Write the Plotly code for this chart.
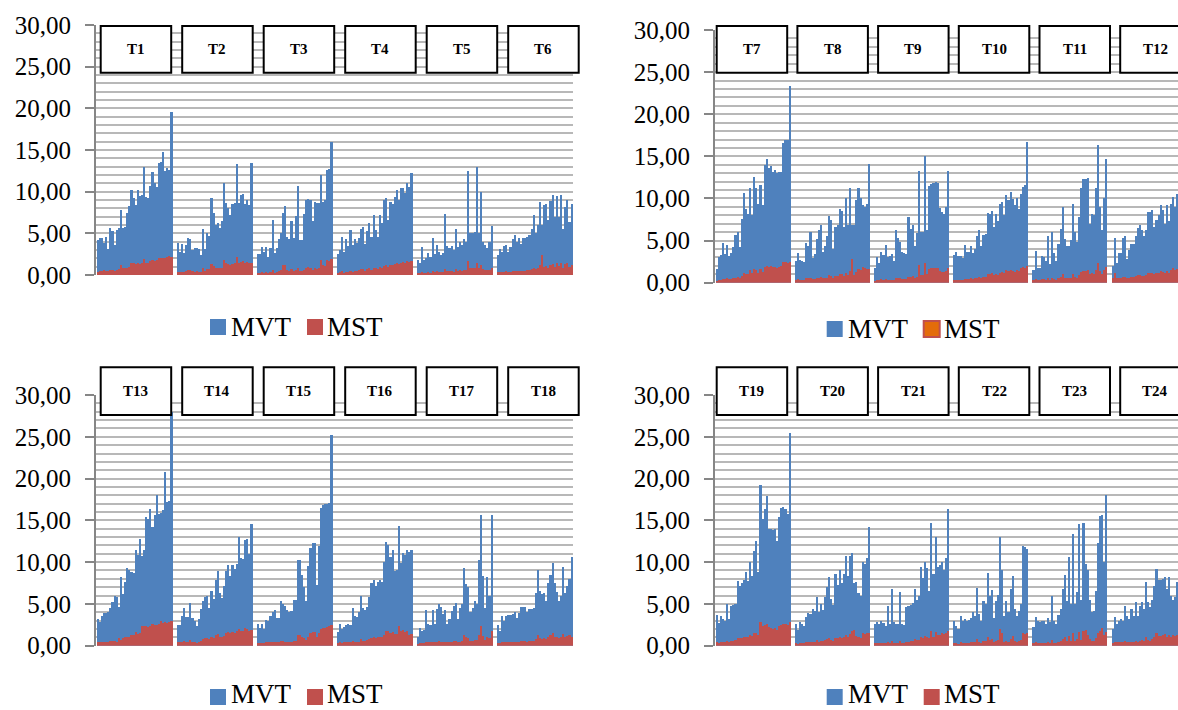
import plotly.graph_objects as go

W, H = 1178, 710

# ---- MVT / MST values for each test (36 readings per test) ----
mvt_t1 = [4.2, 4.5, 4.5, 3.8, 4.6, 3.1, 5.7, 5.3, 3.6, 5.4, 5.6, 7.8, 5.6, 5.8, 7.5, 8.3, 10.2, 9.3, 8.4, 10.2, 9.5, 9.6, 13.0, 9.4, 9.3, 10.7, 12.4, 11.0, 10.6, 13.5, 13.6, 14.8, 12.5, 12.8, 12.6, 19.6]
mst_t1 = [0.4, 0.5, 0.5, 0.6, 0.5, 0.5, 0.6, 0.6, 0.5, 0.6, 0.7, 1.2, 0.8, 0.8, 0.9, 1.0, 1.5, 1.5, 1.3, 1.4, 1.3, 1.4, 1.9, 1.5, 1.4, 1.7, 1.8, 1.7, 1.8, 2.0, 2.0, 2.1, 2.1, 2.2, 2.3, 2.2]
mvt_t2 = [3.8, 2.8, 3.7, 2.6, 3.6, 4.5, 4.3, 3.0, 3.3, 3.2, 3.1, 2.4, 5.5, 3.1, 5.0, 4.7, 9.3, 7.4, 6.0, 6.2, 5.6, 6.5, 11.0, 8.7, 8.0, 7.2, 8.5, 8.6, 13.3, 8.7, 9.6, 9.7, 8.5, 9.0, 8.4, 13.4]
mst_t2 = [0.4, 0.4, 0.4, 0.4, 0.5, 0.6, 0.6, 0.5, 0.4, 0.5, 0.4, 0.4, 0.8, 0.5, 0.7, 0.7, 1.3, 1.1, 0.9, 0.9, 0.8, 0.9, 1.8, 1.5, 1.3, 1.2, 1.3, 1.4, 2.2, 1.5, 1.6, 1.7, 1.5, 1.6, 1.4, 1.5]
mvt_t3 = [2.5, 2.5, 3.4, 2.8, 3.4, 2.2, 3.3, 6.6, 2.6, 3.2, 4.3, 5.0, 7.5, 8.3, 4.6, 4.3, 6.5, 4.5, 7.1, 10.7, 4.2, 4.2, 7.3, 9.0, 9.1, 9.0, 6.5, 8.8, 8.6, 8.7, 12.0, 8.8, 9.0, 12.6, 12.7, 16.0]
mst_t3 = [0.3, 0.3, 0.4, 0.3, 0.4, 0.3, 0.4, 0.6, 0.3, 0.4, 0.5, 0.6, 1.2, 1.2, 0.6, 0.5, 0.7, 0.5, 0.6, 0.9, 0.5, 0.5, 0.6, 0.9, 1.0, 0.9, 0.6, 0.8, 0.7, 0.8, 1.8, 1.2, 1.1, 1.8, 1.7, 1.9]
mvt_t4 = [2.5, 3.0, 4.6, 2.8, 4.3, 3.5, 5.4, 3.6, 4.3, 3.8, 4.4, 5.5, 5.8, 3.7, 5.3, 6.3, 4.6, 7.2, 5.4, 4.6, 7.2, 6.3, 9.0, 9.2, 6.6, 8.8, 8.5, 9.4, 10.2, 9.0, 10.5, 10.4, 9.8, 11.0, 10.6, 12.2]
mst_t4 = [0.3, 0.4, 0.5, 0.3, 0.4, 0.4, 0.5, 0.4, 0.5, 0.5, 0.6, 0.7, 0.7, 0.5, 0.7, 0.8, 0.6, 0.9, 0.8, 0.7, 1.0, 0.9, 1.1, 1.2, 1.0, 1.2, 1.2, 1.3, 1.5, 1.3, 1.5, 1.6, 1.5, 1.7, 1.6, 1.7]
mvt_t5 = [1.8, 1.4, 3.4, 1.8, 2.0, 2.6, 2.2, 4.5, 2.5, 3.6, 2.8, 2.4, 2.6, 7.3, 3.5, 3.3, 3.5, 3.0, 5.5, 3.4, 4.0, 3.6, 4.3, 4.0, 12.5, 5.0, 5.0, 5.2, 13.0, 5.0, 10.0, 4.0, 3.6, 3.3, 4.0, 5.9]
mst_t5 = [0.3, 0.3, 0.4, 0.3, 0.3, 0.4, 0.3, 0.5, 0.4, 0.5, 0.4, 0.4, 0.4, 0.7, 0.5, 0.5, 0.5, 0.4, 0.7, 0.5, 0.6, 0.5, 0.6, 0.6, 1.7, 0.8, 0.8, 0.8, 1.5, 0.8, 1.2, 0.7, 0.6, 0.6, 0.6, 0.8]
mvt_t6 = [2.4, 3.1, 2.8, 3.5, 3.6, 2.8, 3.4, 4.3, 4.8, 4.0, 4.4, 3.7, 4.5, 4.5, 4.6, 4.8, 5.5, 7.2, 5.0, 6.0, 8.8, 6.0, 8.4, 8.5, 6.6, 8.9, 9.6, 7.0, 9.5, 7.0, 9.6, 5.5, 8.2, 9.0, 6.4, 8.5]
mst_t6 = [0.4, 0.4, 0.4, 0.4, 0.5, 0.4, 0.4, 0.5, 0.5, 0.5, 0.5, 0.5, 0.5, 0.5, 0.6, 0.6, 0.7, 0.8, 0.7, 0.8, 1.2, 2.4, 1.0, 1.1, 0.9, 1.2, 1.3, 1.0, 1.4, 1.1, 1.5, 0.9, 1.3, 1.4, 1.0, 1.2]

mvt_t7 = [1.6, 3.1, 3.3, 4.7, 3.4, 4.5, 3.2, 3.5, 4.2, 5.7, 6.0, 4.2, 7.6, 10.6, 8.8, 8.2, 11.2, 8.0, 12.6, 11.3, 9.3, 11.6, 9.2, 14.0, 14.7, 13.6, 13.9, 13.2, 13.4, 13.0, 13.2, 13.1, 16.6, 16.9, 17.0, 23.3]
mst_t7 = [0.2, 0.3, 0.3, 0.4, 0.4, 0.5, 0.4, 0.4, 0.5, 0.6, 0.7, 0.6, 0.8, 1.2, 1.0, 1.0, 1.5, 1.1, 1.6, 1.5, 1.2, 1.6, 1.3, 1.9, 2.0, 1.9, 2.0, 1.9, 1.9, 1.8, 1.9, 2.0, 2.4, 2.4, 2.3, 2.5]
mvt_t8 = [2.6, 3.5, 2.7, 2.6, 2.5, 4.7, 4.4, 6.0, 2.9, 3.4, 5.2, 6.2, 6.8, 3.7, 4.3, 5.6, 7.9, 7.5, 4.0, 6.6, 6.8, 8.7, 8.5, 6.6, 10.0, 6.8, 11.3, 6.8, 6.8, 9.8, 11.2, 10.0, 9.2, 9.0, 9.3, 14.1]
mst_t8 = [0.3, 0.4, 0.3, 0.3, 0.3, 0.5, 0.5, 0.6, 0.4, 0.4, 0.6, 0.6, 0.7, 0.5, 0.5, 0.6, 0.9, 0.8, 0.5, 0.8, 0.8, 1.0, 1.0, 0.8, 1.2, 0.9, 1.4, 2.8, 0.9, 1.3, 1.6, 1.5, 1.9, 1.7, 1.6, 1.6]
mvt_t9 = [1.8, 3.1, 2.3, 3.7, 3.3, 4.5, 3.1, 3.2, 3.4, 2.6, 6.2, 5.3, 4.8, 3.6, 3.5, 3.4, 7.8, 6.4, 6.9, 4.4, 5.9, 13.3, 6.0, 6.0, 15.0, 6.3, 11.5, 11.7, 11.8, 11.9, 11.8, 8.9, 8.4, 8.2, 9.0, 13.3]
mst_t9 = [0.2, 0.3, 0.3, 0.4, 0.3, 0.4, 0.3, 0.3, 0.3, 0.3, 0.6, 0.6, 0.5, 0.4, 0.4, 0.4, 0.7, 0.7, 0.8, 0.6, 0.7, 2.1, 0.9, 0.9, 2.3, 1.0, 1.6, 1.8, 1.7, 1.7, 1.8, 1.4, 1.3, 1.3, 1.4, 1.7]
mvt_t10 = [3.3, 3.6, 3.2, 3.2, 2.9, 4.5, 3.6, 3.6, 4.3, 3.5, 4.0, 5.6, 6.2, 4.4, 5.7, 5.8, 8.3, 8.2, 8.5, 6.6, 8.1, 7.3, 9.3, 9.6, 8.0, 10.4, 9.8, 10.8, 9.9, 9.2, 10.0, 8.7, 10.5, 11.4, 11.6, 16.7]
mst_t10 = [0.3, 0.3, 0.3, 0.3, 0.3, 0.4, 0.4, 0.4, 0.5, 0.4, 0.5, 0.6, 0.7, 0.6, 0.7, 0.7, 1.0, 1.0, 1.1, 0.9, 1.0, 0.9, 1.2, 1.3, 1.1, 1.5, 1.4, 1.5, 1.4, 1.3, 1.5, 1.4, 1.7, 1.9, 1.8, 2.0]
mvt_t11 = [1.5, 3.8, 1.8, 1.8, 3.2, 3.1, 2.6, 5.6, 2.2, 6.0, 3.5, 2.6, 4.6, 6.4, 9.0, 5.2, 4.3, 4.4, 5.1, 9.3, 6.0, 4.8, 7.8, 11.3, 12.3, 12.3, 12.4, 7.0, 8.2, 8.0, 11.3, 16.3, 9.0, 6.3, 10.0, 14.7]
mst_t11 = [0.3, 0.4, 0.3, 0.3, 0.4, 0.4, 0.3, 0.6, 0.3, 0.6, 0.4, 0.3, 0.5, 0.7, 1.0, 0.6, 0.5, 0.5, 0.6, 1.0, 0.7, 0.6, 0.9, 1.3, 1.4, 1.4, 1.5, 1.0, 1.1, 1.0, 1.5, 2.3, 1.4, 1.0, 1.5, 1.9]
mvt_t12 = [2.0, 5.3, 2.3, 3.5, 3.5, 5.3, 5.5, 2.8, 3.9, 4.6, 4.6, 5.6, 6.5, 6.8, 6.3, 5.6, 6.2, 8.4, 8.4, 8.6, 6.6, 7.5, 8.0, 9.2, 8.6, 7.0, 9.2, 7.3, 9.3, 10.2, 9.0, 10.5, 9.6, 11.0, 10.2, 12.0]
mst_t12 = [0.6, 1.1, 0.5, 0.6, 0.6, 0.7, 0.7, 0.5, 0.6, 0.7, 0.7, 0.8, 0.9, 0.9, 0.8, 0.8, 0.9, 1.1, 1.1, 1.2, 1.0, 1.1, 1.2, 1.4, 1.3, 1.1, 1.4, 1.2, 1.5, 1.7, 1.5, 1.6, 1.5, 1.7, 1.6, 1.8]

mvt_t13 = [3.2, 2.8, 3.5, 3.9, 3.9, 4.0, 4.5, 5.2, 6.0, 5.8, 4.6, 8.2, 6.2, 7.6, 9.3, 9.1, 8.8, 8.7, 11.4, 10.8, 12.8, 10.7, 11.5, 15.4, 15.2, 16.4, 14.2, 15.6, 18.0, 15.8, 15.9, 16.2, 20.8, 17.2, 17.3, 28.0]
mst_t13 = [0.4, 0.4, 0.4, 0.5, 0.5, 0.5, 0.6, 0.6, 0.6, 0.5, 0.9, 0.7, 0.9, 1.1, 1.1, 1.1, 1.3, 1.3, 1.6, 1.4, 1.5, 2.4, 2.4, 2.4, 2.2, 2.4, 2.6, 2.5, 2.5, 2.6, 2.9, 2.7, 2.8, 2.7, 2.8, 3.0]
mvt_t14 = [2.5, 2.5, 3.6, 4.5, 3.4, 3.4, 5.1, 3.3, 3.0, 2.3, 3.2, 4.4, 5.3, 5.8, 6.0, 4.5, 6.5, 5.6, 7.9, 8.9, 6.3, 5.7, 7.2, 8.9, 9.6, 8.4, 9.7, 9.2, 9.8, 13.0, 10.5, 10.4, 12.7, 12.8, 11.0, 14.6]
mst_t14 = [0.4, 0.4, 0.5, 0.6, 0.5, 0.5, 0.7, 0.5, 0.4, 0.3, 0.5, 0.6, 0.8, 0.9, 0.9, 0.8, 1.0, 0.9, 1.3, 1.4, 1.1, 1.0, 1.2, 1.5, 1.6, 1.5, 1.6, 1.5, 1.7, 2.0, 1.8, 1.7, 2.1, 2.0, 1.7, 1.9]
mvt_t15 = [2.6, 2.1, 2.6, 2.0, 3.1, 3.0, 3.6, 4.0, 4.3, 3.3, 3.3, 5.4, 5.0, 4.8, 4.3, 4.0, 4.1, 5.5, 5.5, 10.2, 10.2, 8.5, 7.0, 5.3, 9.5, 11.7, 12.3, 12.3, 7.3, 11.9, 16.5, 16.8, 17.0, 17.0, 17.1, 25.2]
mst_t15 = [0.3, 0.3, 0.3, 0.3, 0.4, 0.4, 0.4, 0.5, 0.5, 0.4, 0.4, 0.6, 0.6, 0.5, 0.5, 0.5, 0.5, 0.6, 0.6, 1.3, 1.3, 1.0, 0.9, 0.7, 1.1, 1.5, 1.6, 1.6, 1.0, 1.5, 2.0, 2.1, 2.1, 2.2, 2.3, 2.5]
mvt_t16 = [1.6, 2.6, 2.0, 2.2, 2.5, 2.6, 2.5, 4.5, 3.5, 3.4, 4.0, 6.0, 4.5, 4.3, 4.6, 5.8, 7.5, 7.9, 7.2, 7.6, 7.9, 7.6, 10.0, 12.4, 12.0, 10.6, 11.4, 8.9, 9.0, 14.3, 9.9, 11.1, 10.8, 11.5, 11.2, 11.5]
mst_t16 = [0.3, 0.4, 0.3, 0.4, 0.4, 0.4, 0.4, 0.6, 0.5, 0.5, 0.5, 0.8, 0.6, 0.6, 0.7, 0.8, 0.9, 1.0, 0.9, 1.0, 1.1, 1.0, 1.3, 1.7, 1.7, 1.5, 1.6, 1.4, 1.4, 2.3, 1.8, 1.9, 1.6, 1.7, 1.3, 1.4]
mvt_t17 = [1.0, 2.1, 1.8, 1.9, 4.3, 2.6, 2.5, 4.3, 2.6, 4.4, 5.0, 4.6, 3.8, 4.3, 2.6, 3.2, 4.2, 4.8, 5.1, 3.2, 4.5, 5.0, 9.3, 7.4, 7.0, 4.0, 4.5, 5.4, 5.0, 10.2, 15.6, 8.3, 4.5, 8.2, 6.0, 15.6]
mst_t17 = [0.2, 0.3, 0.3, 0.3, 0.5, 0.4, 0.4, 0.5, 0.4, 0.5, 0.6, 0.5, 0.5, 0.5, 0.4, 0.4, 0.5, 0.6, 0.6, 0.4, 0.5, 0.6, 1.3, 1.0, 0.9, 0.6, 0.6, 0.7, 0.7, 1.3, 2.3, 1.2, 0.7, 1.1, 0.9, 1.8]
mvt_t18 = [2.5, 1.8, 3.6, 3.0, 3.6, 3.7, 3.7, 3.8, 4.0, 3.3, 3.9, 4.6, 4.6, 4.6, 4.0, 4.4, 4.4, 4.5, 6.3, 9.0, 6.5, 6.2, 6.3, 5.4, 7.5, 8.5, 9.9, 7.5, 6.4, 5.4, 6.0, 9.4, 6.3, 7.2, 8.0, 10.6]
mst_t18 = [0.3, 0.3, 0.4, 0.4, 0.4, 0.5, 0.5, 0.5, 0.5, 0.4, 0.5, 0.6, 0.6, 0.6, 0.5, 0.6, 0.6, 0.6, 0.8, 1.3, 0.9, 0.8, 0.9, 0.8, 1.0, 1.3, 1.5, 1.1, 1.0, 0.9, 1.0, 1.4, 1.0, 1.2, 1.3, 1.1]

mvt_t19 = [3.7, 2.7, 3.6, 3.2, 2.9, 5.0, 3.2, 4.7, 4.9, 5.0, 7.8, 7.1, 7.5, 7.9, 8.8, 7.7, 10.0, 8.4, 11.3, 12.5, 8.8, 19.2, 15.2, 16.3, 17.9, 14.0, 14.0, 13.9, 14.0, 12.5, 15.4, 16.5, 16.6, 16.4, 15.8, 25.5]
mst_t19 = [0.4, 0.3, 0.4, 0.4, 0.4, 0.6, 0.5, 0.6, 0.6, 0.7, 0.9, 0.9, 0.9, 1.0, 1.0, 1.0, 1.3, 1.2, 1.5, 1.5, 1.3, 2.8, 2.4, 2.5, 2.6, 2.2, 2.1, 2.0, 2.1, 1.9, 2.4, 2.5, 2.6, 2.6, 2.5, 2.8]
mvt_t20 = [2.6, 1.9, 2.8, 2.6, 2.3, 3.4, 3.9, 3.8, 4.4, 4.2, 5.8, 4.0, 5.0, 4.3, 5.8, 7.0, 8.2, 5.6, 4.9, 8.6, 7.3, 9.0, 7.5, 8.6, 10.7, 8.3, 10.7, 11.1, 7.5, 7.6, 6.3, 6.0, 10.0, 9.8, 10.5, 14.2]
mst_t20 = [0.3, 0.2, 0.3, 0.3, 0.3, 0.4, 0.5, 0.5, 0.5, 0.5, 0.7, 0.5, 0.6, 0.6, 0.7, 0.8, 0.9, 0.7, 0.6, 0.9, 0.9, 1.0, 0.9, 1.0, 1.3, 1.1, 1.4, 1.7, 1.9, 1.2, 1.0, 0.9, 1.5, 1.4, 1.5, 1.5]
mvt_t21 = [2.6, 2.8, 2.6, 2.9, 2.7, 2.3, 4.7, 2.6, 6.8, 2.8, 2.6, 2.6, 6.4, 2.6, 2.5, 4.6, 4.7, 4.9, 5.1, 6.8, 5.5, 6.0, 9.4, 8.1, 10.0, 9.3, 6.6, 14.7, 8.6, 13.0, 9.4, 9.6, 10.0, 9.0, 10.5, 16.4]
mst_t21 = [0.3, 0.3, 0.3, 0.3, 0.3, 0.3, 0.5, 0.3, 0.6, 0.3, 0.3, 0.3, 0.6, 0.3, 0.3, 0.5, 0.5, 0.6, 0.6, 0.8, 0.7, 0.7, 1.0, 0.9, 1.2, 1.1, 0.9, 1.7, 1.1, 1.6, 1.3, 1.3, 1.5, 1.4, 1.5, 1.8]
mvt_t22 = [2.9, 2.4, 2.0, 3.6, 2.9, 3.2, 2.9, 3.1, 3.3, 4.0, 3.6, 6.9, 3.8, 3.0, 5.4, 5.0, 8.7, 6.0, 6.7, 3.3, 5.3, 6.1, 13.0, 9.1, 3.6, 5.4, 4.0, 6.8, 8.4, 4.4, 3.6, 4.2, 5.0, 11.9, 11.8, 11.6]
mst_t22 = [0.3, 0.3, 0.2, 0.4, 0.3, 0.3, 0.3, 0.3, 0.4, 0.5, 0.4, 0.8, 0.4, 0.3, 0.6, 0.6, 1.0, 0.7, 0.8, 0.4, 0.6, 0.7, 2.0, 1.5, 0.5, 0.6, 0.5, 0.8, 1.2, 0.6, 0.5, 0.6, 0.7, 1.5, 1.4, 1.5]
mvt_t23 = [2.2, 3.4, 3.0, 2.8, 3.0, 2.9, 2.6, 3.3, 2.8, 6.0, 3.0, 2.6, 3.7, 4.4, 6.8, 8.5, 5.3, 10.6, 5.0, 13.4, 5.0, 6.4, 14.6, 5.5, 14.7, 9.8, 9.1, 5.5, 4.0, 4.2, 6.6, 12.3, 15.5, 15.6, 10.0, 18.0]
mst_t23 = [0.3, 0.4, 0.3, 0.3, 0.3, 0.3, 0.3, 0.4, 0.3, 0.7, 0.3, 0.3, 0.5, 0.6, 0.8, 1.0, 0.6, 1.2, 0.6, 1.5, 0.6, 0.8, 1.6, 0.7, 1.7, 1.9, 1.3, 0.8, 0.6, 0.6, 0.9, 1.5, 1.8, 2.1, 1.3, 1.6]
mvt_t24 = [2.0, 3.4, 2.6, 3.0, 3.2, 3.0, 4.8, 3.6, 3.2, 4.4, 3.6, 5.2, 3.6, 4.7, 5.2, 4.4, 7.6, 5.2, 4.6, 5.5, 7.2, 9.2, 7.9, 7.9, 8.0, 8.2, 6.8, 8.2, 6.0, 5.5, 5.8, 7.6, 8.4, 6.9, 9.0, 7.5]
mst_t24 = [0.3, 0.4, 0.4, 0.4, 0.4, 0.4, 0.6, 0.5, 0.4, 0.5, 0.5, 0.6, 0.5, 0.6, 0.7, 0.6, 1.0, 0.7, 0.6, 0.8, 1.0, 1.5, 1.2, 1.2, 1.3, 1.4, 1.1, 1.3, 1.0, 1.3, 1.2, 1.3, 1.4, 1.2, 1.4, 1.3]

labels_a = ["T1", "T2", "T3", "T4", "T5", "T6"]
labels_b = ["T7", "T8", "T9", "T10", "T11", "T12"]
labels_c = ["T13", "T14", "T15", "T16", "T17", "T18"]
labels_d = ["T19", "T20", "T21", "T22", "T23", "T24"]

# ---- styling ----
BLUE = "#4F81BD"
RED = "#C0504D"
ORANGE = "#E46C0A"
GRID = "#b8b8b8"
AXIS = "#868686"
SERIF = "Liberation Serif"

GROUP_STRIDE = 38   # 36 readings + 2 empty slots between tests


def fx(p):
    return p / W


def fy(p):
    return 1 - p / H


panels = [
    dict(labels=labels_a,
         mvt=[mvt_t1, mvt_t2, mvt_t3, mvt_t4, mvt_t5, mvt_t6],
         mst=[mst_t1, mst_t2, mst_t3, mst_t4, mst_t5, mst_t6],
         axis_px=96, right_px=573, first_px=96.7, slot_px=2.106,
         top_px=25, bot_px=275, box_left=100.7, box_step=81.5,
         box_top=26, box_bot=72.7, leg_x=210, leg_y=327, text_dy=0,
         mst_swatch=RED),
    dict(labels=labels_b,
         mvt=[mvt_t7, mvt_t8, mvt_t9, mvt_t10, mvt_t11, mvt_t12],
         mst=[mst_t7, mst_t8, mst_t9, mst_t10, mst_t11, mst_t12],
         axis_px=715, right_px=1178, first_px=715.7, slot_px=2.084,
         top_px=30, bot_px=282.7, box_left=716.7, box_step=80.7,
         box_top=26, box_bot=72.7, leg_x=826.7, leg_y=329, text_dy=0,
         mst_swatch=ORANGE),
    dict(labels=labels_c,
         mvt=[mvt_t13, mvt_t14, mvt_t15, mvt_t16, mvt_t17, mvt_t18],
         mst=[mst_t13, mst_t14, mst_t15, mst_t16, mst_t17, mst_t18],
         axis_px=96, right_px=573, first_px=96.7, slot_px=2.106,
         top_px=395, bot_px=645.7, box_left=100.7, box_step=81.5,
         box_top=367.3, box_bot=415, leg_x=210, leg_y=697, text_dy=-3,
         mst_swatch=RED),
    dict(labels=labels_d,
         mvt=[mvt_t19, mvt_t20, mvt_t21, mvt_t22, mvt_t23, mvt_t24],
         mst=[mst_t19, mst_t20, mst_t21, mst_t22, mst_t23, mst_t24],
         axis_px=715, right_px=1178, first_px=715.7, slot_px=2.084,
         top_px=395, bot_px=645.7, box_left=716.7, box_step=80.7,
         box_top=367.3, box_bot=415, leg_x=826.7, leg_y=697, text_dy=-3,
         mst_swatch=RED),
]

BOX_W = 70.5
SW = 16  # legend swatch size (px)

fig = go.Figure()
shapes = []
annotations = []
layout_axes = {}

for k, p in enumerate(panels):
    sfx = "" if k == 0 else str(k + 1)
    xa, ya = "x" + sfx, "y" + sfx

    xs, mvt_all, mst_all = [], [], []
    for g, (mv, ms) in enumerate(zip(p["mvt"], p["mst"])):
        xs += [g * GROUP_STRIDE + i + 1 for i in range(len(mv))]
        mvt_all += mv
        mst_all += ms

    fig.add_trace(go.Bar(x=xs, y=mvt_all, xaxis=xa, yaxis=ya, name="MVT",
                         marker=dict(color=BLUE, line=dict(width=0)),
                         showlegend=False))
    fig.add_trace(go.Bar(x=xs, y=mst_all, xaxis=xa, yaxis=ya, name="MST",
                         marker=dict(color=RED, line=dict(width=0)),
                         showlegend=False))

    r0 = 0.5 - (p["first_px"] - p["axis_px"]) / p["slot_px"]
    r1 = r0 + (p["right_px"] - p["axis_px"]) / p["slot_px"]

    layout_axes["xaxis" + sfx] = dict(
        domain=[fx(p["axis_px"]), fx(p["right_px"])], range=[r0, r1],
        anchor=ya, visible=False, fixedrange=True, automargin=False)
    layout_axes["yaxis" + sfx] = dict(
        domain=[fy(p["bot_px"]), fy(p["top_px"])], range=[0, 30],
        anchor=xa, dtick=5, tick0=0, tickformat=".2f",
        ticks="outside", ticklen=9, tickwidth=2, tickcolor=AXIS,
        ticklabelstandoff=9, automargin=False,
        showline=True, linecolor=AXIS, linewidth=2,
        showgrid=True, gridcolor=GRID, gridwidth=2, zeroline=False,
        minor=dict(dtick=1, tick0=0, showgrid=True, gridcolor=GRID,
                   gridwidth=2, ticks=""),
        tickfont=dict(family=SERIF, size=25, color="black"),
        fixedrange=True)

    # test label boxes across the top of each panel
    for j, lab in enumerate(p["labels"]):
        x0 = p["box_left"] + j * p["box_step"]
        shapes.append(dict(type="rect", xref="paper", yref="paper",
                           x0=fx(x0), x1=fx(x0 + BOX_W),
                           y0=fy(p["box_bot"]), y1=fy(p["box_top"]),
                           fillcolor="white", line=dict(color="black", width=2),
                           layer="above"))
        annotations.append(dict(xref="paper", yref="paper",
                                x=fx(x0 + BOX_W / 2),
                                y=fy((p["box_top"] + p["box_bot"]) / 2),
                                text="<b>%s</b>" % lab, showarrow=False,
                                xanchor="center", yanchor="middle",
                                font=dict(family=SERIF, size=15, color="black")))

    # legend row under the panel
    lx, ly = p["leg_x"], p["leg_y"]
    shapes.append(dict(type="rect", xref="paper", yref="paper",
                       x0=fx(lx), x1=fx(lx + SW), y0=fy(ly + SW / 2), y1=fy(ly - SW / 2),
                       fillcolor=BLUE, line=dict(width=0), layer="above"))
    shapes.append(dict(type="rect", xref="paper", yref="paper",
                       x0=fx(lx + 97), x1=fx(lx + 97 + SW),
                       y0=fy(ly + SW / 2), y1=fy(ly - SW / 2),
                       fillcolor=p["mst_swatch"],
                       line=dict(color=RED, width=2 if p["mst_swatch"] != RED else 0),
                       layer="above"))
    for txt, off in (("MVT", 19), ("MST", 115)):
        annotations.append(dict(xref="paper", yref="paper", x=fx(lx + off),
                                y=fy(ly + p["text_dy"]),
                                text=txt, showarrow=False, xanchor="left",
                                yanchor="middle",
                                font=dict(family=SERIF, size=27, color="black")))

fig.update_layout(
    template="none",
    width=W, height=H, autosize=False,
    margin=dict(l=0, r=0, t=0, b=0, pad=0),
    paper_bgcolor="white", plot_bgcolor="white",
    barmode="overlay", bargap=0,
    separators=",.",
    shapes=shapes, annotations=annotations,
    **layout_axes,
)

fig.write_html("out.html")
